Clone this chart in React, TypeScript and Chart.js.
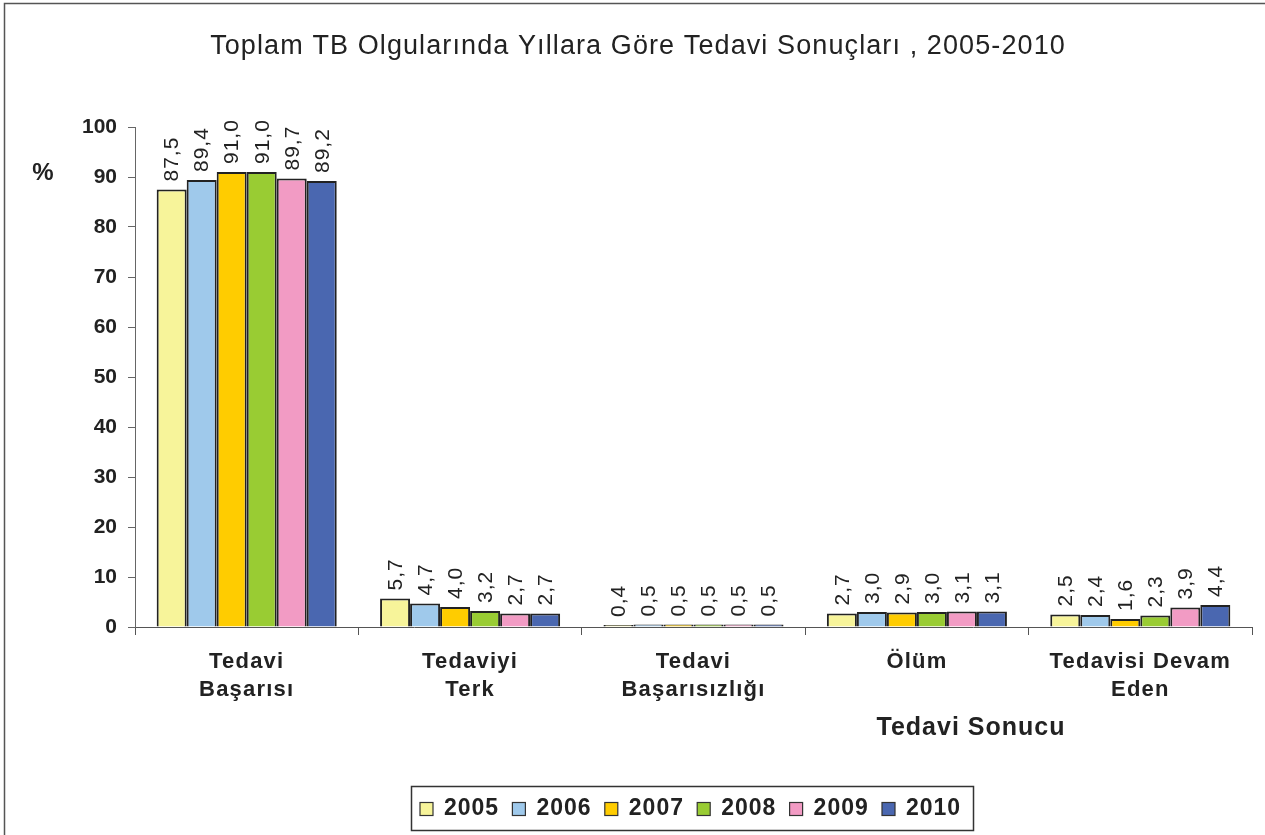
import React, { useEffect, useRef } from 'react';
import { Chart, registerables } from 'chart.js';

Chart.register(...registerables);

const chartTitle = 'Toplam TB Olgularında Yıllara Göre Tedavi Sonuçları , 2005-2010';
const xAxisTitle = 'Tedavi Sonucu';
const yAxisTitle = '%';

const categories: string[][] = [
  ['Tedavi', 'Başarısı'],
  ['Tedaviyi', 'Terk'],
  ['Tedavi', 'Başarısızlığı'],
  ['Ölüm'],
  ['Tedavisi Devam', 'Eden'],
];

const years = ['2005', '2006', '2007', '2008', '2009', '2010'];

const v2005 = [87.5, 5.7, 0.4, 2.7, 2.5];
const v2006 = [89.4, 4.7, 0.5, 3.0, 2.4];
const v2007 = [91.0, 4.0, 0.5, 2.9, 1.6];
const v2008 = [91.0, 3.2, 0.5, 3.0, 2.3];
const v2009 = [89.7, 2.7, 0.5, 3.1, 3.9];
const v2010 = [89.2, 2.7, 0.5, 3.1, 4.4];

const seriesValues = [v2005, v2006, v2007, v2008, v2009, v2010];
const seriesColors = ['#F7F49A', '#9FC9EB', '#FFCC00', '#99CC33', '#F29BC4', '#4A67B0'];

const yMin = 0;
const yMax = 100;
const yStep = 10;

const FONT = '"Liberation Sans", Arial, Helvetica, sans-serif';
const TEXT = '#222222';

const fmt = (v: number) => v.toFixed(1).replace('.', ',');

const decorPlugin = {
  id: 'decor',
  beforeDraw(chart: any) {
    const ctx = chart.ctx;
    ctx.letterSpacing = '0px';
    ctx.save();
    ctx.fillStyle = '#ffffff';
    ctx.fillRect(0, 0, chart.width, chart.height);
    ctx.restore();
  },
  afterDatasetsDraw(chart: any) {
    const ctx = chart.ctx;
    ctx.save();
    ctx.letterSpacing = '1px';
    ctx.fillStyle = TEXT;
    ctx.font = `21px ${FONT}`;
    ctx.textAlign = 'left';
    ctx.textBaseline = 'middle';
    chart.data.datasets.forEach((ds: any, i: number) => {
      const meta = chart.getDatasetMeta(i);
      meta.data.forEach((bar: any, j: number) => {
        ctx.save();
        ctx.translate(bar.x + 1, bar.y - 8);
        ctx.rotate(-Math.PI / 2);
        ctx.fillText(fmt(ds.data[j]), 0, 0);
        ctx.restore();
      });
    });
    ctx.restore();
    // x-axis category labels (drawn in a later layer) use tracked lettering
    ctx.letterSpacing = '1.2px';
  },
  afterDraw(chart: any) {
    const ctx = chart.ctx;
    ctx.save();
    // outer frame (left & top)
    ctx.strokeStyle = '#555555';
    ctx.lineWidth = 1.5;
    ctx.beginPath();
    ctx.moveTo(4.5, chart.height);
    ctx.lineTo(4.5, 3.5);
    ctx.lineTo(chart.width, 3.5);
    ctx.stroke();

    // title
    ctx.fillStyle = TEXT;
    ctx.textAlign = 'center';
    ctx.textBaseline = 'middle';
    ctx.letterSpacing = '1.1px';
    ctx.font = `27px ${FONT}`;
    ctx.fillText(chartTitle, 638, 47);

    // y axis title
    ctx.letterSpacing = '0px';
    ctx.font = `bold 24px ${FONT}`;
    ctx.fillText(yAxisTitle, 43, 173);

    // x axis title
    ctx.letterSpacing = '1px';
    ctx.font = `bold 25px ${FONT}`;
    ctx.fillText(xAxisTitle, 971, 728);

    // legend
    const lx0 = 411, ly0 = 786, lx1 = 973, ly1 = 830;
    ctx.strokeStyle = '#333333';
    ctx.lineWidth = 1.5;
    ctx.strokeRect(lx0 + 0.5, ly0 + 0.5, lx1 - lx0, ly1 - ly0);
    ctx.letterSpacing = '1px';
    ctx.font = `bold 23px ${FONT}`;
    ctx.textAlign = 'left';
    const cy = (ly0 + ly1) / 2 + 1;
    chart.data.datasets.forEach((ds: any, i: number) => {
      const bx = 420 + i * 92.4;
      ctx.fillStyle = ds.backgroundColor;
      ctx.fillRect(bx, cy - 6.5, 13, 13);
      ctx.strokeStyle = '#333333';
      ctx.lineWidth = 1.2;
      ctx.strokeRect(bx, cy - 6.5, 13, 13);
      ctx.fillStyle = TEXT;
      ctx.fillText(ds.label, bx + 24, cy);
    });
    ctx.restore();
    ctx.letterSpacing = '0px';
  },
};

export default function App() {
  const canvasRef = useRef<HTMLCanvasElement | null>(null);

  useEffect(() => {
    document.body.style.margin = '0';
    const canvas = canvasRef.current;
    if (!canvas) return;
    const chart = new Chart(canvas, {
      type: 'bar',
      data: {
        labels: categories,
        datasets: years.map((y, i) => ({
          label: y,
          data: seriesValues[i],
          backgroundColor: seriesColors[i],
          borderColor: '#222222',
          borderWidth: 2,
          categoryPercentage: 0.806,
          barPercentage: 1.0,
        })),
      },
      options: {
        responsive: false,
        animation: false,
        devicePixelRatio: 1,
        layout: { padding: { top: 127, right: 13, bottom: 108, left: 0 } },
        plugins: {
          legend: { display: false },
          title: { display: false },
          tooltip: { enabled: false },
        },
        scales: {
          x: {
            afterFit: (s: any) => { s.height = 100; },
            grid: {
              display: true,
              drawOnChartArea: false,
              drawTicks: true,
              tickLength: 8,
              color: '#555555',
              offset: true,
            },
            border: { display: true, color: '#555555', width: 1 },
            ticks: {
              z: 1,
              color: TEXT,
              font: { family: FONT, size: 22, weight: 'bold', lineHeight: 1.27 },
              padding: 13,
              maxRotation: 0,
              minRotation: 0,
              autoSkip: false,
            },
          },
          y: {
            min: yMin,
            max: yMax,
            afterFit: (s: any) => { s.width = 135; },
            grid: {
              display: true,
              drawOnChartArea: false,
              drawTicks: true,
              tickLength: 7,
              color: '#666666',
            },
            border: { display: true, color: '#666666', width: 1 },
            ticks: {
              stepSize: yStep,
              color: TEXT,
              font: { family: FONT, size: 21, weight: 'bold' },
              padding: 11,
            },
          },
        },
      },
      plugins: [decorPlugin],
    } as any);
    return () => chart.destroy();
  }, []);

  return (
    <div style={{ width: 1265, height: 835 }}>
      <canvas ref={canvasRef} width={1265} height={835} style={{ display: 'block' }} />
    </div>
  );
}
